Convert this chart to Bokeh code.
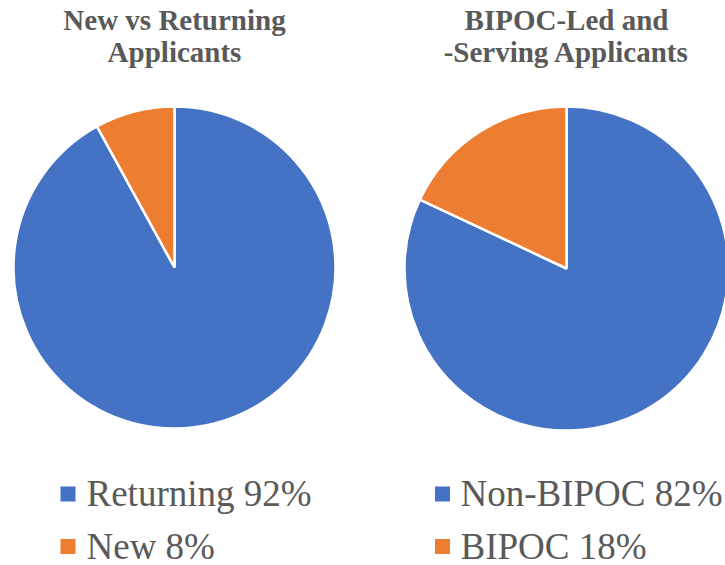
from bokeh.plotting import figure
from bokeh.models import Range1d, ColumnDataSource
from bokeh.core.properties import value
from bokeh.embed import file_html
from bokeh.resources import INLINE
import math

# ---- data ----
left_title = ["New vs Returning", "Applicants"]
left_labels = ["Returning", "New"]
left_values = [92, 8]

right_title = ["BIPOC-Led and", "-Serving Applicants"]
right_labels = ["Non-BIPOC", "BIPOC"]
right_values = [82, 18]

colors = ["#4472C4", "#ED7D31"]
text_color = "#595959"

W, H = 725, 565
p = figure(width=W, height=H, output_backend="svg", toolbar_location=None,
           x_range=Range1d(0, W), y_range=Range1d(0, H),
           min_border=0, x_axis_location=None, y_axis_location=None)
p.grid.visible = False
p.outline_line_color = None
p.background_fill_color = "white"
p.border_fill_color = "white"

TXT_SHIFT = 11  # renderer places alphabetic baseline lower; compensate

def Y(img_y):
    return H - img_y

def X(img_x):
    return img_x

def pie(cx, cy, r, vals):
    total = float(sum(vals))
    cum = 0.0
    starts, ends = [], []
    for v in vals:
        a_end = math.pi / 2 - cum / total * 2 * math.pi
        cum += v
        a_start = math.pi / 2 - cum / total * 2 * math.pi
        starts.append(a_start)
        ends.append(a_end)
    src = ColumnDataSource(dict(x=[cx] * len(vals), y=[cy] * len(vals),
                                s=starts, e=ends, c=colors[:len(vals)]))
    p.wedge(x="x", y="y", radius=r, start_angle="s", end_angle="e",
            fill_color="c", line_color="white", line_width=2.5, source=src)

def title(cx, lines):
    for i, t in enumerate(lines):
        p.text(x=[cx], y=[Y(30 + 32 * i - TXT_SHIFT)], text=[t], text_align="center",
               text_baseline="alphabetic", text_font=value("Liberation Serif"),
               text_font_style="bold", text_font_size="29px", text_color=text_color)

def legend(sq_x, tx, labels, vals):
    for i, (lab, v) in enumerate(zip(labels, vals)):
        yc = 493.5 + 52.5 * i
        p.rect(x=[X(sq_x)], y=[Y(yc)], width=15, height=15,
               fill_color=colors[i], line_color=None)
        p.text(x=[X(tx)], y=[Y(yc + 10.5 - TXT_SHIFT)], text=[f"{lab} {v}%"], text_align="left",
               text_baseline="alphabetic", text_font=value("Liberation Serif"),
               text_font_size="37px", text_color=text_color)

pie(X(174), Y(267), 161, left_values)
pie(X(566), Y(268), 162, right_values)
title(X(174), left_title)
title(X(566), right_title)
legend(67.5, 86, left_labels, left_values)
legend(442, 460, right_labels, right_values)

open("out.html", "w").write(file_html(p, INLINE))
